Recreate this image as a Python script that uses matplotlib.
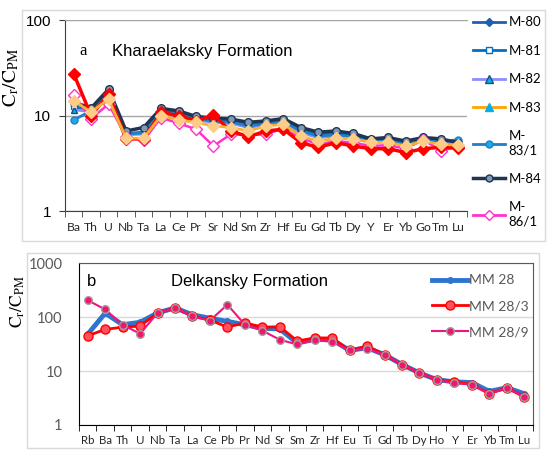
import numpy as np
import matplotlib
matplotlib.use("Agg")
import matplotlib.pyplot as plt
from matplotlib.lines import Line2D
from matplotlib.patches import Rectangle

plt.rcParams["font.family"] = ["Lato", "DejaVu Sans"]
plt.rcParams["mathtext.fontset"] = "stix"

# panel a: Kharaelaksky Formation
elements_a = ["Ba", "Th", "U", "Nb", "Ta", "La", "Ce", "Pr", "Sr", "Nd", "Sm", "Zr",
              "Hf", "Eu", "Gd", "Tb", "Dy", "Y", "Er", "Yb", "Go", "Tm", "Lu"]
m80 = [27.5, 10.0, 16.8, 5.7, 5.7, 10.8, 10.0, 8.8, 10.1, 6.9, 6.0, 6.9,
       7.2, 5.2, 4.65, 5.2, 4.8, 4.5, 4.5, 4.1, 4.5, 4.65, 4.6]
m81 = [12.5, 11.3, 17.0, 6.5, 6.7, 11.2, 10.5, 9.3, 9.0, 8.7, 8.0, 8.4,
       8.9, 7.0, 6.3, 6.5, 6.2, 5.5, 5.6, 5.2, 5.6, 5.4, 5.0]
m82 = [11.5, 11.0, 16.5, 6.3, 6.4, 10.7, 10.0, 9.0, 8.5, 8.3, 7.5, 8.0,
       8.4, 6.6, 5.9, 6.1, 5.8, 5.2, 5.4, 5.0, 5.4, 5.2, 5.1]
m83 = [14.3, 10.9, 14.9, 5.8, 5.8, 10.0, 9.0, 8.5, 7.8, 7.5, 6.9, 7.8,
       8.1, 6.1, 5.4, 5.8, 5.7, 5.25, 5.25, 4.8, 5.4, 5.0, 4.9]
m83_1 = [9.0, 11.2, 17.5, 6.4, 6.6, 11.0, 10.4, 9.2, 8.8, 8.6, 7.8, 8.2,
         8.7, 6.9, 6.1, 6.3, 6.0, 5.3, 5.5, 5.1, 5.5, 5.3, 5.6]
m84 = [13.8, 12.0, 18.9, 6.9, 7.5, 11.9, 11.2, 9.8, 9.4, 9.2, 8.5, 8.8,
       9.3, 7.5, 6.7, 6.9, 6.5, 5.7, 5.9, 5.4, 5.9, 5.7, 5.2]
m86_1 = [16.5, 9.3, 13.2, 6.0, 5.5, 9.5, 8.3, 7.2, 4.8, 6.4, 6.2, 6.4,
         7.3, 5.8, 5.0, 5.4, 5.2, 4.8, 4.9, 4.5, 5.6, 4.3, 4.7]

# panel b: Delkansky Formation
elements_b = ["Rb", "Ba", "Th", "U", "Nb", "Ta", "La", "Ce", "Pb", "Pr", "Nd", "Sr", "Sm",
              "Zr", "Hf", "Eu", "Ti", "Gd", "Tb", "Dy", "Ho", "Y", "Er", "Yb", "Tm", "Lu"]
mm28 = [48, 118, 72, 80, 119, 148, 110, 95, 83, 72, 62, 60, 33,
        39, 38, 24, 27, 20, 13.2, 9.2, 6.9, 6.3, 6.1, 4.2, 4.9, 3.8]
mm28_3 = [45, 59, 65, 68, 119, 148, 103, 88, 65, 78, 65, 66, 36,
          41, 41, 24, 29, 20, 13.2, 9.2, 6.9, 6.3, 5.6, 3.8, 4.9, 3.3]
mm28_9 = [205, 138, 72, 49, 119, 148, 103, 86, 170, 72, 56, 38, 31,
          37, 35, 24, 26, 20, 13.2, 9.2, 6.9, 6.0, 5.6, 3.8, 4.9, 3.3]

fig = plt.figure(figsize=(5.5, 4.68), dpi=100)
fig.patches.append(Rectangle((22 / 550, 1 - 241 / 468), 523 / 550, 231 / 468,
                             transform=fig.transFigure, fill=False, ec="#D9D9D9", lw=1))
fig.patches.append(Rectangle((27 / 550, 1 - 448 / 468), 512 / 550, 195 / 468,
                             transform=fig.transFigure, fill=False, ec="#D9D9D9", lw=1))

# ---- panel a ----
ax = fig.add_axes([0.118, 0.549, 0.731, 0.408])
xa = np.arange(len(elements_a))
ax.plot(xa, m81, color="#0070C0", lw=2, marker="s", ms=5, mfc="white", mec="#0070C0", zorder=3)
ax.plot(xa, m82, color="#8C8CFF", lw=2, marker="^", ms=5, mfc="#00B0F0", mec="#1F4E79", zorder=3)
ax.plot(xa, m83_1, color="#1F7FC8", lw=2, marker="o", ms=5, mfc="#1FA8E8", mec="#1F7FC8", zorder=3)
ax.plot(xa, m84, color="#1F3552", lw=2.5, marker="o", ms=5.5, mfc="#7F9AB8", mec="#1F3552", zorder=4)
ax.plot(xa, m86_1, color="#FF33CC", lw=1.8, marker="D", ms=6, mfc="white", mec="#FF33CC", zorder=4)
ax.plot(xa, m80, color="#FF0000", lw=2.5, marker="D", ms=6.5, mfc="#FF0000", mec="#FF0000", zorder=5)
ax.plot(xa, m83, color="#F5B030", lw=2, marker="D", ms=6.5, mfc="#FFCC88", mec="#FFCC88", zorder=6)

ax.set_yscale("log")
ax.set_ylim(1, 100)
ax.set_xlim(-0.5, len(elements_a) - 0.5)
ax.yaxis.set_minor_locator(matplotlib.ticker.NullLocator())
ax.set_yticks([1, 10, 100])
ax.set_yticklabels(["1", "10", "100"], fontfamily="Liberation Sans", fontsize=11)
ax.set_xticks(xa)
ax.set_xticklabels(elements_a, fontsize=8.7, color="#262626")
ax.set_xticks(np.arange(len(elements_a) + 1) - 0.5, minor=True)
ax.tick_params(axis="x", which="major", length=0, pad=8)
ax.tick_params(axis="x", which="minor", length=4, color="#404040", direction="out")
ax.tick_params(axis="y", length=4, color="#404040", pad=6)
ax.grid(axis="y", which="major", color="#A6A6A6", lw=1)
ax.spines["right"].set_visible(False)
ax.spines["top"].set_color("#A6A6A6")
ax.spines["left"].set_color("#404040")
ax.spines["bottom"].set_color("#404040")
ax.set_ylabel(r"$\mathrm{C_r/C_{PM}}$", fontsize=14)
ax.yaxis.set_label_coords(-0.11, 0.70)
ax.text(0.037, 0.838, "a", transform=ax.transAxes, fontfamily="Liberation Serif",
        fontsize=12, va="center")
ax.text(0.117, 0.838, "Kharaelaksky Formation", transform=ax.transAxes,
        fontfamily="Liberation Sans", fontsize=12, va="center")

handles_a = [
    Line2D([], [], color="#1F5FAF", lw=2, marker="D", ms=4, mfc="#1F5FAF", mec="#1F5FAF"),
    Line2D([], [], color="#0070C0", lw=2, marker="s", ms=5, mfc="white", mec="#0070C0"),
    Line2D([], [], color="#8C8CFF", lw=2, marker="^", ms=6, mfc="#00B0F0", mec="#1F4E79"),
    Line2D([], [], color="#FFA500", lw=2, marker="^", ms=6, mfc="#00B0F0", mec="#00B0F0"),
    Line2D([], [], color="#1F7FC8", lw=2, marker="o", ms=5, mfc="#1FA8E8", mec="#1F7FC8"),
    Line2D([], [], color="#1F3552", lw=2.5, marker="o", ms=5, mfc="#7F9AB8", mec="#1F3552"),
    Line2D([], [], color="#FF33CC", lw=2, marker="D", ms=5, mfc="white", mec="#FF33CC"),
]
labels_a = ["M-80", "M-81", "M-82", "M-83", "M-\n83/1", "M-84", "M-\n86/1"]
ax.legend(handles_a, labels_a, loc="upper left", bbox_to_anchor=(1.016, 1.02),
          frameon=False, fontsize=9.5, handlelength=2.4, handletextpad=0.25,
          labelspacing=1.25, borderaxespad=0, borderpad=0)

# ---- panel b ----
bx = fig.add_axes([0.1436, 0.0919, 0.8255, 0.346])
xb = np.arange(len(elements_b))
bx.plot(xb, mm28, color="#2E75D0", lw=3.5, marker="o", ms=4, mfc="#2E75D0", mec="#2E75D0",
        label="MM 28", zorder=3)
bx.plot(xb, mm28_3, color="#FF0000", lw=2, marker="o", ms=6.5, mfc="#FF5060", mec="#FF0000",
        label="MM 28/3", zorder=4)
bx.plot(xb, mm28_9, color="#F0157A", lw=1.5, marker="o", ms=5.5, mfc="#F0166E", mec="#A0A0A0",
        label="MM 28/9", zorder=5)

bx.set_yscale("log")
bx.set_ylim(1, 1000)
bx.set_xlim(-0.5, len(elements_b) - 0.5)
bx.yaxis.set_minor_locator(matplotlib.ticker.NullLocator())
bx.set_yticks([1, 10, 100, 1000])
bx.set_yticklabels(["1", "10", "100", "1000"], fontsize=10.5, color="#595959")
bx.set_xticks(xb)
bx.set_xticklabels(elements_b, fontsize=8.3, color="#262626")
bx.set_xticks(np.arange(len(elements_b) + 1) - 0.5, minor=True)
bx.tick_params(axis="x", which="major", length=0, pad=7)
bx.tick_params(axis="x", which="minor", length=4, color="#000000", direction="out")
bx.tick_params(axis="y", length=0, pad=12)
bx.grid(axis="y", which="major", color="#D9D9D9", lw=1)
bx.spines["top"].set_color("#595959")
bx.spines["right"].set_color("#595959")
bx.spines["left"].set_color("#000000")
bx.spines["bottom"].set_color("#000000")
bx.set_ylabel(r"$\mathrm{C_r/C_{PM}}$", fontsize=12.5)
bx.yaxis.set_label_coords(-0.115, 0.76)
bx.text(0.018, 0.889, "b", transform=bx.transAxes, fontfamily="Liberation Sans",
        fontsize=12, va="center")
bx.text(0.203, 0.889, "Delkansky Formation", transform=bx.transAxes,
        fontfamily="Liberation Sans", fontsize=12, va="center")
leg = bx.legend(loc="upper left", bbox_to_anchor=(0.7775, 0.93), frameon=False, fontsize=10,
                handlelength=2.6, handletextpad=0.1, labelspacing=1.0,
                borderaxespad=0, borderpad=0)
for t in leg.get_texts():
    t.set_color("#595959")

fig.savefig("out.png", dpi=100)
